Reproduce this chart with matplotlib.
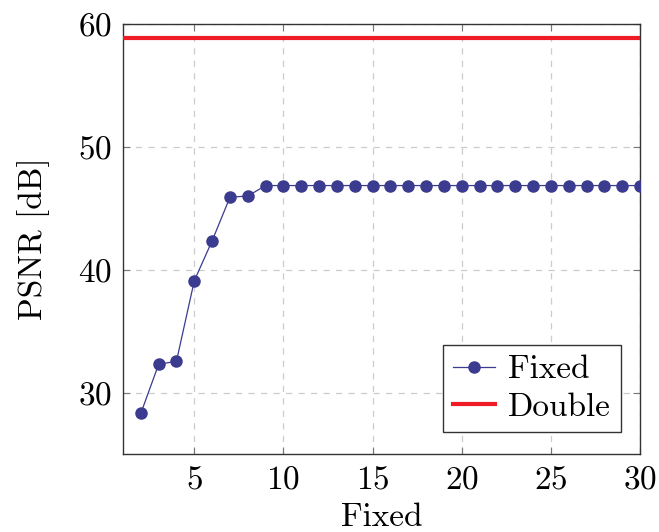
import matplotlib
matplotlib.use('Agg')
import matplotlib.pyplot as plt

plt.rcParams.update({'font.family': 'serif', 'font.serif': ['cmr10'],
                     'axes.formatter.use_mathtext': True, 'font.size': 24})

# data
fixed_x = list(range(2, 31))
fixed_psnr = [28.3, 32.3, 32.55, 39.1, 42.35, 45.9, 46.0] + [46.85] * 22
double_psnr = 58.9

fig = plt.figure(figsize=(6.59, 5.32), dpi=100)
ax = fig.add_axes([0.1866, 0.1466, 0.7846, 0.8083])

ax.plot(fixed_x, fixed_psnr, color='#3b3b8f', lw=0.9, marker='o', ms=8, label='Fixed', zorder=3)
ax.axhline(double_psnr, color='#ee1c25', lw=3, label='Double', zorder=3)

ax.set_xlim(1, 30)
ax.set_ylim(25, 60)
ax.set_xticks([5, 10, 15, 20, 25, 30])
ax.set_yticks([30, 40, 50, 60])
ax.grid(True, ls=(0, (5, 5)), color='#cccccc', lw=0.9)
ax.tick_params(direction='in', top=True, right=True, length=5, color='#777777', pad=8)
for s in ax.spines.values():
    s.set_color('#333333')
    s.set_linewidth(1)

ax.set_xlabel('Fixed', labelpad=6)
ax.set_ylabel('PSNR [dB]', labelpad=20)

leg = ax.legend(loc='lower right', bbox_to_anchor=(0.963, 0.051), borderaxespad=0,
                fancybox=False, edgecolor='#333333', framealpha=1, handlelength=1.25,
                borderpad=0.3, labelspacing=0.25, handletextpad=0.4)
leg.get_frame().set_linewidth(1)

fig.savefig('out.png', dpi=100)
